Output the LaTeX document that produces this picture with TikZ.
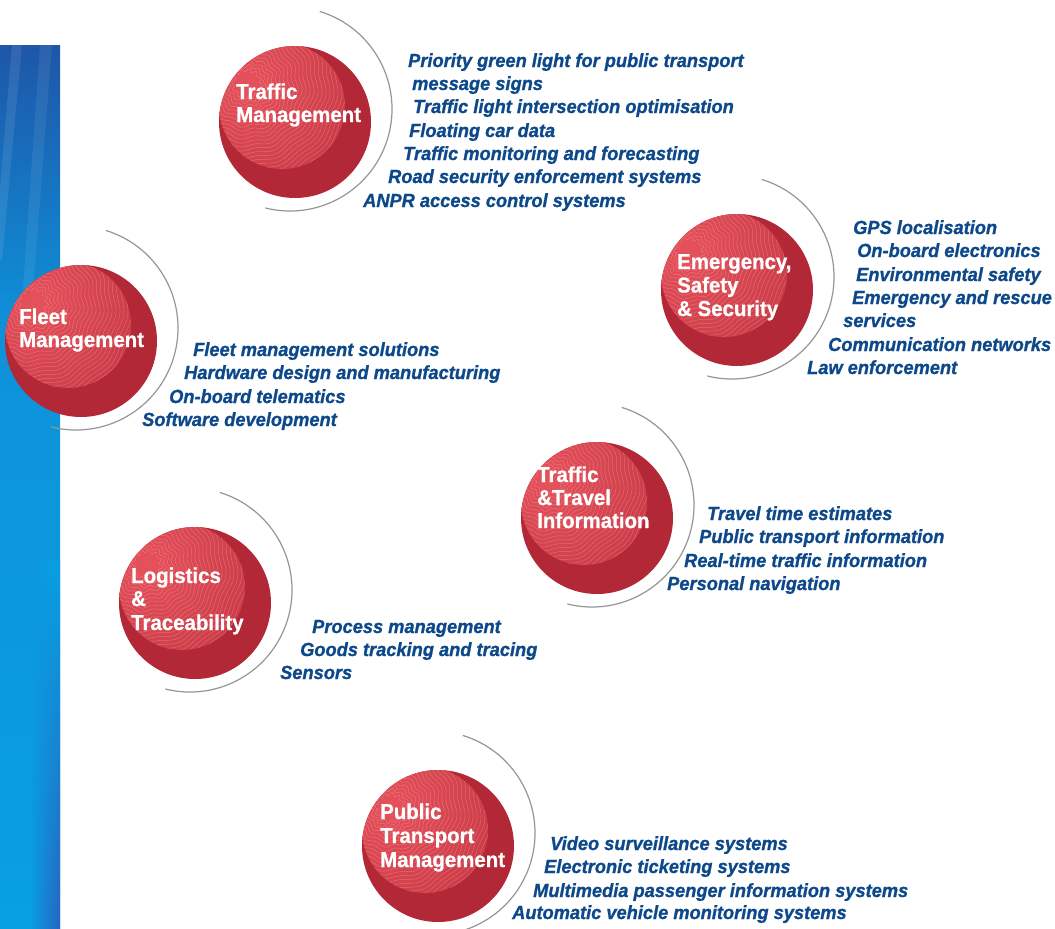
\documentclass[tikz,border=0pt]{standalone}
\usepackage{fontspec}
\setmainfont{Liberation Sans}
\newfontfamily\labfont[FakeStretch=0.95, FakeBold=0.8]{Liberation Sans Bold}
\newfontfamily\itemfont[FakeStretch=0.96, FakeBold=1.0]{Liberation Sans Bold Italic}
\usetikzlibrary{fadings}
\definecolor{bluetxt}{RGB}{12,72,138}
\definecolor{redbase}{RGB}{178,40,54}
\definecolor{redlight}{RGB}{200,56,68}
\definecolor{redspot}{RGB}{230,82,92}
\definecolor{arcgray}{RGB}{150,150,150}
\definecolor{bartop}{RGB}{30,86,168}
\definecolor{barmid}{RGB}{14,146,218}
\definecolor{barbot}{RGB}{8,160,226}
\definecolor{bardark}{RGB}{40,100,192}
\tikzfading[name=fadeleft, left color=transparent!100, right color=transparent!0]
\tikzset{
  itemtxt/.style={anchor=base west, inner sep=0pt, text=bluetxt,
    font=\itemfont\fontsize{19}{23}\selectfont},
  lab/.style={anchor=base west, inner sep=0pt, text=white,
    font=\labfont\fontsize{21.5}{23.5}\selectfont},
  ring/.style={draw=arcgray, line width=1.2pt},
  ballbase/.style={circle, minimum size=152pt, inner sep=0pt, fill=redbase},
  wave/.style={white, opacity=.22, line width=.5pt},
}
\newcommand\Ball[3]{%
  \node[ballbase] (#1) at (#2,#3) {};
  \begin{scope}
    \clip (#2,#3) circle (76);
    \clip (#2-13,#3-16) circle (63);
    \shade[inner color=redspot, outer color=redlight] (#2-48,#3-38) circle (120);
    \foreach \r in {14,18,...,122}
      \draw[wave] plot[domain=0:360, samples=100, smooth]
        ({#2-48+(\r+1.6*sin(12*\x))*cos(\x)}, {#3-38+(\r+1.6*sin(12*\x))*sin(\x)});
  \end{scope}
  \draw[ring] (#2-5,#3-13) ++(-73:102) arc[start angle=-73, end angle=104, radius=102];
}
\begin{document}
\begin{tikzpicture}[x=1pt, y=-1pt]
\useasboundingbox (0,0) rectangle (1055,929);
\fill[white] (0,0) rectangle (1055,929);
% blue bar
\shade[top color=bartop, bottom color=barmid] (0,45) rectangle (60,330.5);
\shade[top color=barmid, bottom color=barbot] (0,330) rectangle (60,929);
\begin{scope}
  \clip (0,45) rectangle (60,929);
  \shade[top color=barbot, bottom color=bardark, path fading=fadeleft] (30,560) rectangle (60,929);
  \fill[white, opacity=.09] (12,45) -- (22,45) -- (2,260) -- (-6,260) -- cycle;
  \fill[white, opacity=.07] (40,45) -- (52,45) -- (30,330) -- (20,330) -- cycle;
\end{scope}

\Ball{tm}{295}{122}
\Ball{es}{737}{290}
\Ball{fm}{81}{341}
\Ball{lt}{195}{603}
\Ball{tt}{597}{518}
\Ball{pt}{438}{846}

% sphere labels
\node[lab] (tmA) at (236,99) {Traffic};
\node[lab] (tmB) at (236,122) {Management};
\node[lab] (esA) at (677,269) {Emergency,};
\node[lab] (esB) at (677,292.5) {Safety};
\node[lab] (esC) at (677,316) {\& Security};
\node[lab] (fmA) at (19,324) {Fleet};
\node[lab] (fmB) at (19,347) {Management};
\node[lab] (ltA) at (131,583) {Logistics};
\node[lab] (ltB) at (131,606) {\&};
\node[lab] (ltC) at (131,630) {Traceability};
\node[lab] (ttA) at (537,482) {Traffic};
\node[lab] (ttB) at (537,505) {\&Travel};
\node[lab] (ttC) at (537,528) {Information};
\node[lab] (ptA) at (380,819) {Public};
\node[lab] (ptB) at (380,843) {Transport};
\node[lab] (ptC) at (380,867) {Management};

% Traffic management items
\node[itemtxt] (tm1) at (408,67) {Priority green light for public transport};
\node[itemtxt] (tm2) at (412,90) {message signs};
\node[itemtxt] (tm3) at (413,113) {Traffic light intersection optimisation};
\node[itemtxt] (tm4) at (409,137) {Floating car data};
\node[itemtxt] (tm5) at (403,160) {Traffic monitoring and forecasting};
\node[itemtxt] (tm6) at (388,183) {Road security enforcement systems};
\node[itemtxt] (tm7) at (363,207) {ANPR access control systems};
% Emergency items
\node[itemtxt] (es1) at (853,234) {GPS localisation};
\node[itemtxt] (es2) at (857,257) {On-board electronics};
\node[itemtxt] (es3) at (856,281) {Environmental safety};
\node[itemtxt] (es4) at (852,304) {Emergency and rescue};
\node[itemtxt] (es5) at (843,327) {services};
\node[itemtxt] (es6) at (828,351) {Communication networks};
\node[itemtxt] (es7) at (807,374) {Law enforcement};
% Fleet items
\node[itemtxt] (fm1) at (193,356) {Fleet management solutions};
\node[itemtxt] (fm2) at (184,379) {Hardware design and manufacturing};
\node[itemtxt] (fm3) at (169,403) {On-board telematics};
\node[itemtxt] (fm4) at (142,426) {Software development};
% Logistics items
\node[itemtxt] (lt1) at (312,633) {Process management};
\node[itemtxt] (lt2) at (300,656) {Goods tracking and tracing};
\node[itemtxt] (lt3) at (280,679) {Sensors};
% Traffic & travel items
\node[itemtxt] (tt1) at (707,520) {Travel time estimates};
\node[itemtxt] (tt2) at (699,543) {Public transport information};
\node[itemtxt] (tt3) at (684,567) {Real-time traffic information};
\node[itemtxt] (tt4) at (667,590) {Personal navigation};
% Public transport items
\node[itemtxt] (pt1) at (550,850) {Video surveillance systems};
\node[itemtxt] (pt2) at (544,873) {Electronic ticketing systems};
\node[itemtxt] (pt3) at (533,897) {Multimedia passenger information systems};
\node[itemtxt] (pt4) at (512,919) {Automatic vehicle monitoring systems};
\end{tikzpicture}
\end{document}
